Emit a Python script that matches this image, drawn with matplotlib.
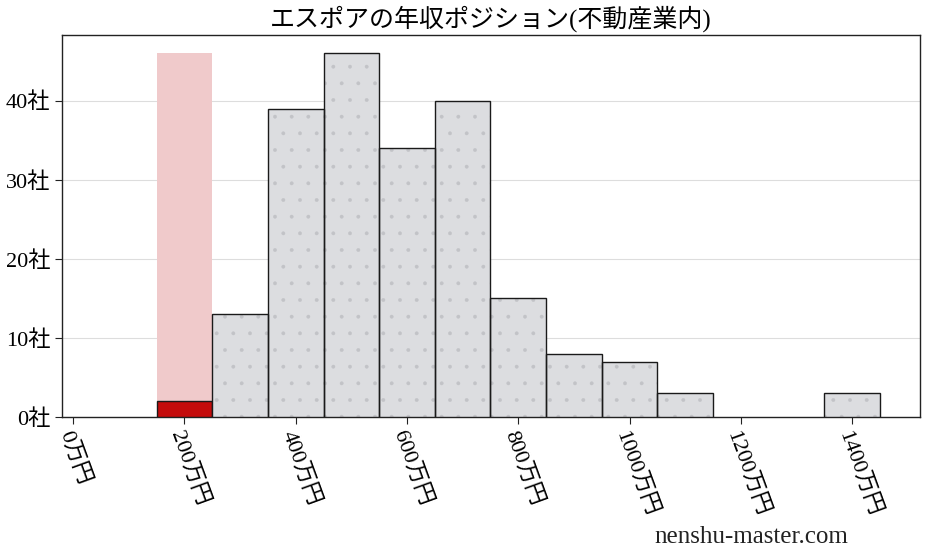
import matplotlib
matplotlib.use("Agg")
import matplotlib.pyplot as plt
import numpy as np

plt.rcParams['font.family'] = ['Liberation Serif', 'Noto Sans CJK JP', 'DejaVu Sans']
plt.rcParams['hatch.linewidth'] = 0.3

# data
bin_left = [150, 250, 350, 450, 550, 650, 750, 850, 950, 1050, 1150, 1250, 1350]
counts = [2, 13, 39, 46, 34, 40, 15, 8, 7, 3, 0, 0, 3]
highlight_index = 0
xticks = [0, 200, 400, 600, 800, 1000, 1200, 1400]
xtick_labels = [f"{v}万円" for v in xticks]
yticks = [0, 10, 20, 30, 40]
ytick_labels = [f"{v}社" for v in yticks]
title = "エスポアの年収ポジション(不動産業内)"
watermark = "nenshu-master.com"
bin_width = 100

fig = plt.figure(figsize=(9.27, 5.57), dpi=100)
ax = fig.add_axes([62/927, 1 - 417/557, (920-62)/927, (417-35)/557])

ymax = max(counts)
# highlight band
ax.bar(bin_left[highlight_index], ymax, width=bin_width, align='edge',
       color='#f0cacb', edgecolor='none', zorder=1)

for i, (l, c) in enumerate(zip(bin_left, counts)):
    if c == 0:
        continue
    if i == highlight_index:
        ax.bar(l, c, width=bin_width, align='edge', color='#c40c0c',
               edgecolor='#1a1a1a', linewidth=1.0, zorder=3)
    else:
        ax.bar(l, c, width=bin_width, align='edge', color='#dcdde0',
               edgecolor='#c2c3c7', linewidth=0, hatch='.', zorder=3)
        ax.bar(l, c, width=bin_width, align='edge', fill=False,
               edgecolor='#1a1a1a', linewidth=1.0, zorder=4)

ax.set_xlim(-20, 1522)
ax.set_ylim(0, ymax * 1.05)
ax.set_xticks(xticks)
ax.set_xticklabels(xtick_labels, rotation=-70, ha='left', va='top',
                   rotation_mode='anchor', fontsize=16)
ax.set_yticks(yticks)
ax.set_yticklabels(ytick_labels, fontsize=16)
ax.yaxis.grid(True, color='#dddddd', linewidth=0.8, zorder=0)
ax.set_axisbelow(True)
for s in ax.spines.values():
    s.set_color('#222222')
    s.set_linewidth(1.0)
ax.tick_params(direction='out', length=5, color='#222222')

ax.set_title(title, fontsize=18, pad=6)
fig.text(751/927, 1 - 537/557, watermark, fontsize=18, ha='center', va='center',
         color='#222222')

fig.savefig("out.png", dpi=100)
